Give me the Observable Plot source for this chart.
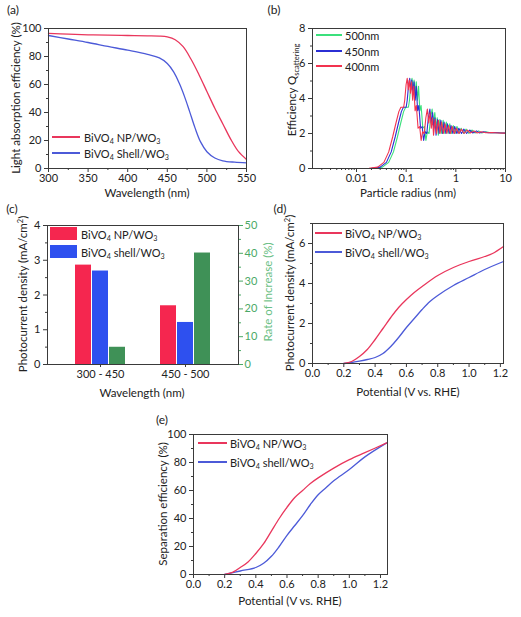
<!DOCTYPE html>
<html>
<head>
<meta charset="utf-8">
<script src="https://cdn.jsdelivr.net/npm/d3@7"></script>
<script src="https://cdn.jsdelivr.net/npm/@observablehq/plot@0.6"></script>
<style>
  body { margin: 0; background: #fff; }
  #wrap { position: relative; width: 521px; height: 617px; overflow: hidden; background: #fff;
          font-family: Lato, "Open Sans", sans-serif; color: #222; }
  .lbl { position: absolute; white-space: nowrap; line-height: 1; }
  .lbl sub { font-size: 0.65em; vertical-align: -0.35em; line-height: 0; }
  .lbl sup { font-size: 0.65em; vertical-align: 0.55em; line-height: 0; }
  svg { position: absolute; }
</style>
</head>
<body>
<div id="wrap"></div>
<script>
// ---------------- data ----------------
// (a) light absorption efficiency
const aNpWl = [300, 325, 350, 375, 400, 425, 440, 450, 460, 470, 480, 490, 500, 510, 520, 530, 540, 550];
const aNpVal = [96.5, 96, 95.5, 95.2, 95, 94.8, 94.6, 94, 92, 87, 78, 67, 55, 43, 32, 21, 12, 6.5];
const aShellWl = [300, 325, 350, 375, 400, 425, 440, 450, 458, 465, 472, 478, 485, 492, 500, 510, 520, 535, 550];
const aShellVal = [95, 92.5, 90, 87.2, 84.5, 81.5, 79, 75, 69, 61, 51, 41, 29, 19, 12, 7.5, 5.5, 4.5, 4];

// (b) scattering efficiency vs particle radius
const bQ = [0,0,0.01,0.08,0.35,0.95,1.8,2.6,3.25,3.5,3.5,3.9,4.8,5.15,4.5,5.05,4.3,4.95,3.9,4.7,3.3,3.6,2.3,2.4,1.6,2.1,2.0,2.9,3.4,2.6,3.2,2.3,2.9,1.9,2.8,2.0,2.75,2.0,2.65,2.0,2.55,2.0,2.45,2.0,2.4,2.0,2.3,2.0,2.25,2.0,2.2,2.03,2.15,2.03,2.1,2.04,2.06,2.03,2.02];
const bR450 = [0.0013,0.01,0.02,0.03,0.04,0.05,0.06,0.07,0.08,0.088,0.1,0.105,0.112,0.118,0.124,0.13,0.137,0.144,0.152,0.16,0.17,0.18,0.195,0.21,0.225,0.24,0.26,0.28,0.3,0.32,0.34,0.36,0.38,0.4,0.43,0.46,0.5,0.54,0.58,0.63,0.68,0.74,0.8,0.87,0.95,1.05,1.15,1.3,1.45,1.65,1.9,2.2,2.6,3.0,3.6,4.5,6,8,10];
const bR400 = [0.0013,0.0089,0.0178,0.0267,0.0356,0.0445,0.0534,0.0623,0.0712,0.0783,0.089,0.0935,0.0997,0.105,0.1104,0.1157,0.1219,0.1282,0.1353,0.1424,0.1513,0.1602,0.1736,0.1869,0.2003,0.2136,0.2314,0.2492,0.267,0.2848,0.3026,0.3204,0.3382,0.356,0.3827,0.4094,0.445,0.4806,0.5162,0.5607,0.6052,0.6586,0.712,0.7743,0.8455,0.9345,1.0235,1.157,1.2905,1.4685,1.691,1.958,2.314,2.67,3.204,4.005,5.34,7.12,10];
const bR500 = [0.0013,0.0111,0.0222,0.0333,0.0444,0.0555,0.0666,0.0777,0.0888,0.0977,0.111,0.1166,0.1243,0.131,0.1376,0.1443,0.1521,0.1598,0.1687,0.1776,0.1887,0.1998,0.2165,0.2331,0.2498,0.2664,0.2886,0.3108,0.333,0.3552,0.3774,0.3996,0.4218,0.444,0.4773,0.5106,0.555,0.5994,0.6438,0.6993,0.7548,0.8214,0.888,0.9657,1.0545,1.1655,1.2765,1.443,1.6095,1.8315,2.109,2.442,2.886,3.33,3.996,4.995,6.66,8.88,10];
const bSeries = ["500nm", "450nm", "400nm"];

// (c) photocurrent bars
const cGroups = ["300 - 450", "450 - 500"];
const cNp = [2.86, 1.69];
const cShell = [2.69, 1.21];
const cRate = [6.2, 40.1];           // right axis, %
const cLeftTicks = [0, 1, 2, 3, 4];
const cRightTicks = [0, 10, 20, 30, 40, 50];

// (d) photocurrent density vs potential
const dNpV = [0.2,0.25,0.3,0.35,0.4,0.45,0.5,0.55,0.6,0.65,0.7,0.8,0.9,1.0,1.1,1.15,1.22];
const dNpJ = [0,0.1,0.35,0.7,1.2,1.75,2.3,2.8,3.2,3.55,3.85,4.4,4.8,5.1,5.35,5.5,5.85];
const dShellV = [0.2,0.25,0.3,0.35,0.4,0.45,0.5,0.55,0.6,0.65,0.7,0.75,0.8,0.9,1.0,1.1,1.22];
const dShellJ = [0,0.05,0.12,0.2,0.3,0.5,0.85,1.3,1.8,2.25,2.7,3.1,3.4,3.9,4.3,4.7,5.1];

// (e) separation efficiency vs potential
const eNpV = [0.2,0.25,0.3,0.35,0.4,0.45,0.5,0.55,0.6,0.65,0.7,0.75,0.8,0.9,1.0,1.1,1.24];
const eNpS = [0,1.5,5,9,15,22,31,40,48,55,60,65,69,76,82,87,94];
const eShellV = [0.2,0.3,0.4,0.45,0.5,0.55,0.6,0.65,0.7,0.75,0.8,0.85,0.9,1.0,1.1,1.24];
const eShellS = [0,2.5,5,8,13,20,28,35,42,50,57,62,67,75,84,94];

// tick labels
const aXTicks = [300, 350, 400, 450, 500, 550];
const aYTicks = [0, 20, 40, 60, 80, 100];
const bXTicks = [0.01, 0.1, 1, 10];
const bYTicks = [0, 2, 4, 6, 8];
const potTicks = [0, 0.2, 0.4, 0.6, 0.8, 1.0, 1.2];
const dYTicks = [0, 2, 4, 6];
const eYTicks = [0, 20, 40, 60, 80, 100];

// ---------------- styling ----------------
const FONT = "Lato, 'Open Sans', sans-serif";
const RED = "#e9365c", BLUE = "#4c5ad8";
const B_GREEN = "#3be07c", B_BLUE = "#2b2fd4", B_RED = "#f2334f";
const BAR_RED = "#f5264f", BAR_BLUE = "#2e50ef", BAR_GREEN = "#3f9157";
const AX_GREEN = "#4aa866";
const FRAME = "#3a3a3a";

const wrap = document.getElementById("wrap");
const NP_HTML = "BiVO<sub>4</sub> NP/WO<sub>3</sub>";

function place(svg, left, top) {
  svg.style.left = left + "px";
  svg.style.top = top + "px";
  wrap.appendChild(svg);
}
function text(html, x, y, o = {}) {
  const d = document.createElement("div");
  d.className = "lbl";
  d.innerHTML = html;
  d.style.left = x + "px";
  d.style.top = y + "px";
  d.style.fontSize = (o.size || 12) + "px";
  if (o.color) d.style.color = o.color;
  let t = o.anchor === "start" ? "translate(0,-50%)" : "translate(-50%,-50%)";
  if (o.rotate) t += " rotate(-90deg)";
  d.style.transform = t;
  wrap.appendChild(d);
}
function legLine(x1, x2, y, color, html, tx) {
  const d = document.createElement("div");
  d.style.cssText = `position:absolute;left:${x1}px;top:${y - 0.75}px;width:${x2 - x1}px;height:1.5px;background:${color}`;
  wrap.appendChild(d);
  text(html, tx, y, {anchor: "start", size: 11});
}
function legBox(x1, x2, y1, y2, color, html, tx) {
  const d = document.createElement("div");
  d.style.cssText = `position:absolute;left:${x1}px;top:${y1}px;width:${x2 - x1}px;height:${y2 - y1}px;background:${color}`;
  wrap.appendChild(d);
  text(html, tx, (y1 + y2) / 2, {anchor: "start", size: 11});
}
const baseStyle = {background: "transparent", fontFamily: FONT, fontSize: "11px", color: "#222", overflow: "visible"};
function minorBetween(major) {
  const out = [];
  for (let i = 0; i < major.length - 1; i++) out.push((major[i] + major[i + 1]) / 2);
  return out;
}
function axes(xT, yT, xFmt, yFmt, xMinor, yMinor) {
  return [
    Plot.axisX({ticks: xT, tickFormat: xFmt, tickSize: 4, tickPadding: 2, label: null, stroke: FRAME}),
    Plot.axisX({ticks: xMinor, tickSize: 2, text: null, label: null, stroke: FRAME}),
    Plot.axisY({ticks: yT, tickFormat: yFmt, tickSize: 4, tickPadding: 3, label: null, stroke: FRAME}),
    Plot.axisY({ticks: yMinor, tickSize: 2, text: null, label: null, stroke: FRAME})
  ];
}
const zip = (xs, ys) => xs.map((x, i) => ({x, y: ys[i]}));
const plain = d => String(d);

// ---------------- (a) ----------------
place(Plot.plot({
  width: 260, height: 200, marginLeft: 48, marginRight: 14, marginTop: 28, marginBottom: 32,
  style: baseStyle,
  x: {domain: [300, 550]}, y: {domain: [0, 100]},
  marks: [
    ...axes(aXTicks, aYTicks, plain, plain, minorBetween(aXTicks), minorBetween(aYTicks)),
    Plot.line(zip(aShellWl, aShellVal), {x: "x", y: "y", stroke: BLUE, strokeWidth: 1.3, curve: "catmull-rom"}),
    Plot.line(zip(aNpWl, aNpVal), {x: "x", y: "y", stroke: RED, strokeWidth: 1.3, curve: "catmull-rom"}),
    Plot.frame({stroke: FRAME})
  ]
}), 0, 0);
text("(a)", 13, 10, {size: 12});
text("Light absorption efficiency (%)", 16, 98, {rotate: true, size: 11.5});
text("Wavelength (nm)", 147, 193, {size: 11.5});
legLine(52, 80, 137, RED, NP_HTML, 84);
legLine(52, 80, 153, BLUE, "BiVO<sub>4</sub> Shell/WO<sub>3</sub>", 84);

// ---------------- (b) ----------------
const bMinor = [];
[0.001, 0.01, 0.1, 1].forEach(dec => { for (let k = 2; k <= 9; k++) if (dec * k >= 0.0013) bMinor.push(dec * k); });
const bData = [
  ...zip(bR500, bQ).map(d => ({...d, s: bSeries[0]})),
  ...zip(bR450, bQ).map(d => ({...d, s: bSeries[1]})),
  ...zip(bR400, bQ).map(d => ({...d, s: bSeries[2]}))
];
place(Plot.plot({
  width: 261, height: 200, marginLeft: 52, marginRight: 16, marginTop: 28, marginBottom: 32,
  style: baseStyle,
  x: {type: "log", domain: [0.0013, 10]}, y: {domain: [0, 8]},
  color: {domain: bSeries, range: [B_GREEN, B_BLUE, B_RED]},
  marks: [
    ...axes(bXTicks, bYTicks, d3.format("~g"), plain, bMinor, [1, 3, 5, 7]),
    Plot.line(bData, {x: "x", y: "y", stroke: "s", z: "s", strokeWidth: 1.1}),
    Plot.frame({stroke: FRAME})
  ]
}), 260, 0);
text("(b)", 274, 10, {size: 12});
text("Efficiency Q<sub>scattering</sub>", 292, 90, {rotate: true, size: 11.5});
text("Particle radius (nm)", 408, 193, {size: 11.5});
legLine(316, 342, 35, B_GREEN, "500nm", 345);
legLine(316, 342, 51, B_BLUE, "450nm", 345);
legLine(316, 342, 66, B_RED, "400nm", 345);

// ---------------- (c) ----------------
const SCALE = cLeftTicks[cLeftTicks.length - 1] / cRightTicks[cRightTicks.length - 1];
const cKeys = [];
cGroups.forEach((g, i) => {
  cKeys.push(g + "|NP", g + "|shell", g + "|rate");
  if (i < cGroups.length - 1) cKeys.push("gap1", "gap2");
});
const cBars = [];
cGroups.forEach((g, i) => {
  cBars.push({k: g + "|NP", s: "NP", v: cNp[i]});
  cBars.push({k: g + "|shell", s: "shell", v: cShell[i]});
  cBars.push({k: g + "|rate", s: "rate", v: cRate[i] * SCALE});
});
place(Plot.plot({
  width: 280, height: 215, marginLeft: 47, marginRight: 42, marginTop: 25, marginBottom: 51,
  style: baseStyle,
  x: {type: "band", domain: cKeys, paddingInner: 0.08, paddingOuter: 1.45},
  y: {domain: [0, 4]},
  color: {domain: ["NP", "shell", "rate"], range: [BAR_RED, BAR_BLUE, BAR_GREEN]},
  marks: [
    Plot.barY(cBars, {x: "k", y: "v", fill: "s"}),
    Plot.axisX({ticks: cGroups.map(g => g + "|shell"), tickFormat: d => d.split("|")[0], tickSize: 3, tickPadding: 3, label: null, stroke: FRAME}),
    Plot.axisY({ticks: cLeftTicks, tickFormat: plain, tickSize: 4, tickPadding: 3, label: null, stroke: FRAME}),
    Plot.axisY({ticks: minorBetween(cLeftTicks), tickSize: 2, text: null, label: null, stroke: FRAME}),
    Plot.axisY({anchor: "right", ticks: cRightTicks.map(v => v * SCALE), tickFormat: d => String(Math.round(d / SCALE)),
                tickSize: 4, tickPadding: 2, label: null, stroke: AX_GREEN, fill: AX_GREEN}),
    Plot.axisY({anchor: "right", ticks: minorBetween(cRightTicks).map(v => v * SCALE), tickSize: 2, text: null, label: null, stroke: AX_GREEN}),
    Plot.frame({stroke: FRAME})
  ]
}), 0, 200);
text("(c)", 12, 209, {size: 12});
text("Photocurrent density (mA/cm<sup>2</sup>)", 23, 294, {rotate: true, size: 11.5});
text("Rate of Increase (%)", 268, 292, {rotate: true, size: 11.5, color: "#6cbf86"});
text("Wavelength (nm)", 142, 393, {size: 11.5});
legBox(50, 77, 227, 240, BAR_RED, NP_HTML, 81);
legBox(50, 77, 245, 258, BAR_BLUE, "BiVO<sub>4</sub> shell/WO<sub>3</sub>", 81);

// ---------------- (d) ----------------
const f1 = d3.format(".1f");
place(Plot.plot({
  width: 261, height: 215, marginLeft: 52, marginRight: 18, marginTop: 23, marginBottom: 52,
  style: baseStyle,
  x: {domain: [0, 1.22]}, y: {domain: [0, 7]},
  marks: [
    ...axes(potTicks, dYTicks, f1, plain, minorBetween(potTicks), [1, 3, 5, 7]),
    Plot.line(zip(dShellV, dShellJ), {x: "x", y: "y", stroke: BLUE, strokeWidth: 1.3, curve: "catmull-rom"}),
    Plot.line(zip(dNpV, dNpJ), {x: "x", y: "y", stroke: RED, strokeWidth: 1.3, curve: "catmull-rom"}),
    Plot.frame({stroke: FRAME})
  ]
}), 260, 200);
text("(d)", 280, 209, {size: 12});
text("Photocurrent density (mA/cm<sup>2</sup>)", 290, 293, {rotate: true, size: 11.5});
text("Potential (V vs. RHE)", 408, 392, {size: 11.5});
legLine(315, 342, 233, RED, NP_HTML, 345);
legLine(315, 342, 252, BLUE, "BiVO<sub>4</sub> shell/WO<sub>3</sub>", 345);

// ---------------- (e) ----------------
place(Plot.plot({
  width: 270, height: 207, marginLeft: 63, marginRight: 13, marginTop: 24, marginBottom: 43,
  style: baseStyle,
  x: {domain: [0, 1.245]}, y: {domain: [0, 100]},
  marks: [
    ...axes(potTicks, eYTicks, f1, plain, minorBetween(potTicks), minorBetween(eYTicks)),
    Plot.line(zip(eShellV, eShellS), {x: "x", y: "y", stroke: BLUE, strokeWidth: 1.3, curve: "catmull-rom"}),
    Plot.line(zip(eNpV, eNpS), {x: "x", y: "y", stroke: RED, strokeWidth: 1.3, curve: "catmull-rom"}),
    Plot.frame({stroke: FRAME})
  ]
}), 130, 410);
text("(e)", 162, 420, {size: 12});
text("Separation efficiency (%)", 163, 504, {rotate: true, size: 11.5});
text("Potential (V vs. RHE)", 290, 601, {size: 11.5});
legLine(198, 227, 443, RED, NP_HTML, 230);
legLine(198, 227, 462, BLUE, "BiVO<sub>4</sub> shell/WO<sub>3</sub>", 230);
</script>
</body>
</html>
